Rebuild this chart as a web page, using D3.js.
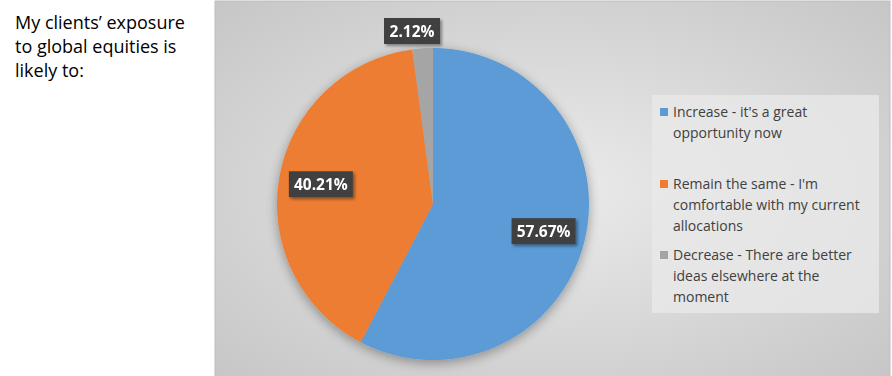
<!DOCTYPE html>
<html>
<head>
<meta charset="utf-8">
<script src="https://cdn.jsdelivr.net/npm/d3@7"></script>
<style>
  body { margin: 0; background: #fff; }
  svg { display: block; }
</style>
</head>
<body>
<script>
// data
const categories = [
  "Increase - it's a great opportunity now",
  "Remain the same - I'm comfortable with my current allocations",
  "Decrease - There are better ideas elsewhere at the moment"
];
const values = [57.67, 40.21, 2.12];
const colors = ["#5b9bd5", "#ed7d31", "#a5a5a5"];
// legend text already wrapped as in the picture
const legendLines = [
  ["Increase - it's a great", "opportunity now"],
  ["Remain the same - I'm", "comfortable with my current", "allocations"],
  ["Decrease - There are better", "ideas elsewhere at the", "moment"]
];
const titleLines = ["My clients\u2019 exposure", "to global equities is", "likely to:"];

const canvWidth = 892, canvHeight = 376;
const svg = d3.select("body").append("svg")
    .attr("width", canvWidth)
    .attr("height", canvHeight);

const defs = svg.append("defs");

// chart area background gradient
const bg = defs.append("radialGradient")
    .attr("id", "bg")
    .attr("cx", "0.5").attr("cy", "0.5").attr("r", "0.75");
bg.append("stop").attr("offset", "0%").attr("stop-color", "#ebebeb");
bg.append("stop").attr("offset", "100%").attr("stop-color", "#c4c4c4");

// soft shadow under pie / labels
const sh = defs.append("filter").attr("id", "shadow")
    .attr("x", "-20%").attr("y", "-20%").attr("width", "140%").attr("height", "140%");
sh.append("feGaussianBlur").attr("in", "SourceAlpha").attr("stdDeviation", 6);
sh.append("feOffset").attr("dx", 0).attr("dy", 3).attr("result", "b");
sh.append("feComponentTransfer").append("feFuncA").attr("type", "linear").attr("slope", 0.35);
const shm = sh.append("feMerge");
shm.append("feMergeNode");
shm.append("feMergeNode").attr("in", "SourceGraphic");

const lsh = defs.append("filter").attr("id", "lshadow")
    .attr("x", "-20%").attr("y", "-30%").attr("width", "150%").attr("height", "170%");
lsh.append("feGaussianBlur").attr("in", "SourceAlpha").attr("stdDeviation", 1.5);
lsh.append("feOffset").attr("dx", 2).attr("dy", 2);
lsh.append("feComponentTransfer").append("feFuncA").attr("type", "linear").attr("slope", 0.4);
const lshm = lsh.append("feMerge");
lshm.append("feMergeNode");
lshm.append("feMergeNode").attr("in", "SourceGraphic");

// chart frame
const area = {x: 215, y: 1, w: 675, h: 378};
svg.append("rect")
    .attr("x", area.x).attr("y", area.y)
    .attr("width", area.w).attr("height", area.h)
    .attr("fill", "url(#bg)")
    .attr("stroke", "#bdbdbd");

// title text on the left
svg.append("text")
    .attr("font-family", "'Open Sans', sans-serif")
    .attr("font-size", "18px")
    .attr("fill", "#000")
    .selectAll("tspan")
    .data(titleLines)
    .enter()
    .append("tspan")
    .attr("x", 15)
    .attr("y", (d, i) => 29 + i * 24)
    .text(d => d);

// pie
const cx = 433, cy = 204, radius = 156;
const pie = d3.pie().sort(null).value(d => d);
const arcs = pie(values);
const arc = d3.arc().innerRadius(0).outerRadius(radius);

const g = svg.append("g")
    .attr("transform", "translate(" + cx + "," + cy + ")");

g.append("g")
    .attr("filter", "url(#shadow)")
    .selectAll("path")
    .data(arcs)
    .enter()
    .append("path")
    .attr("d", arc)
    .attr("fill", (d, i) => colors[i]);

// data labels (positions relative to each slice)
const labelPos = arcs.map((d, i) => {
  if (i === 2) return [412 - cx, 31 - cy];   // small slice: label sits outside
  return d3.arc().innerRadius(radius * 0.73).outerRadius(radius * 0.73).centroid(d);
});

const labels = g.selectAll("g.label")
    .data(arcs)
    .enter()
    .append("g")
    .attr("class", "label")
    .attr("transform", (d, i) => "translate(" + labelPos[i][0] + "," + labelPos[i][1] + ")")
    .attr("filter", "url(#lshadow)");

labels.append("rect")
    .attr("x", (d, i) => i === 2 ? -28 : -32)
    .attr("y", -13)
    .attr("width", (d, i) => i === 2 ? 56 : 64)
    .attr("height", 26)
    .attr("fill", "#404040");

labels.append("text")
    .attr("text-anchor", "middle")
    .attr("dy", "0.36em")
    .attr("font-family", "'Open Sans', sans-serif")
    .attr("font-weight", "bold")
    .attr("font-size", "15.5px")
    .attr("fill", "#fff")
    .text(d => d3.format(".2f")(d.data) + "%");

// legend
const legend = svg.append("g");
legend.append("rect")
    .attr("x", 652).attr("y", 95)
    .attr("width", 227).attr("height", 218)
    .attr("fill", "#e9e9e9")
    .attr("opacity", 0.8);

const legendY = [112, 184, 255];
const items = legend.selectAll("g.item")
    .data(categories)
    .enter()
    .append("g")
    .attr("class", "item");

items.append("rect")
    .attr("x", 660)
    .attr("y", (d, i) => legendY[i] - 4)
    .attr("width", 8).attr("height", 8)
    .attr("fill", (d, i) => colors[i]);

items.append("text")
    .attr("font-family", "'Open Sans', sans-serif")
    .attr("font-size", "14px")
    .attr("fill", "#404040")
    .each(function(d, i) {
      d3.select(this).selectAll("tspan")
        .data(legendLines[i])
        .enter()
        .append("tspan")
        .attr("x", 673)
        .attr("y", (t, j) => legendY[i] + 5 + j * 21)
        .text(t => t);
    });
</script>
</body>
</html>
